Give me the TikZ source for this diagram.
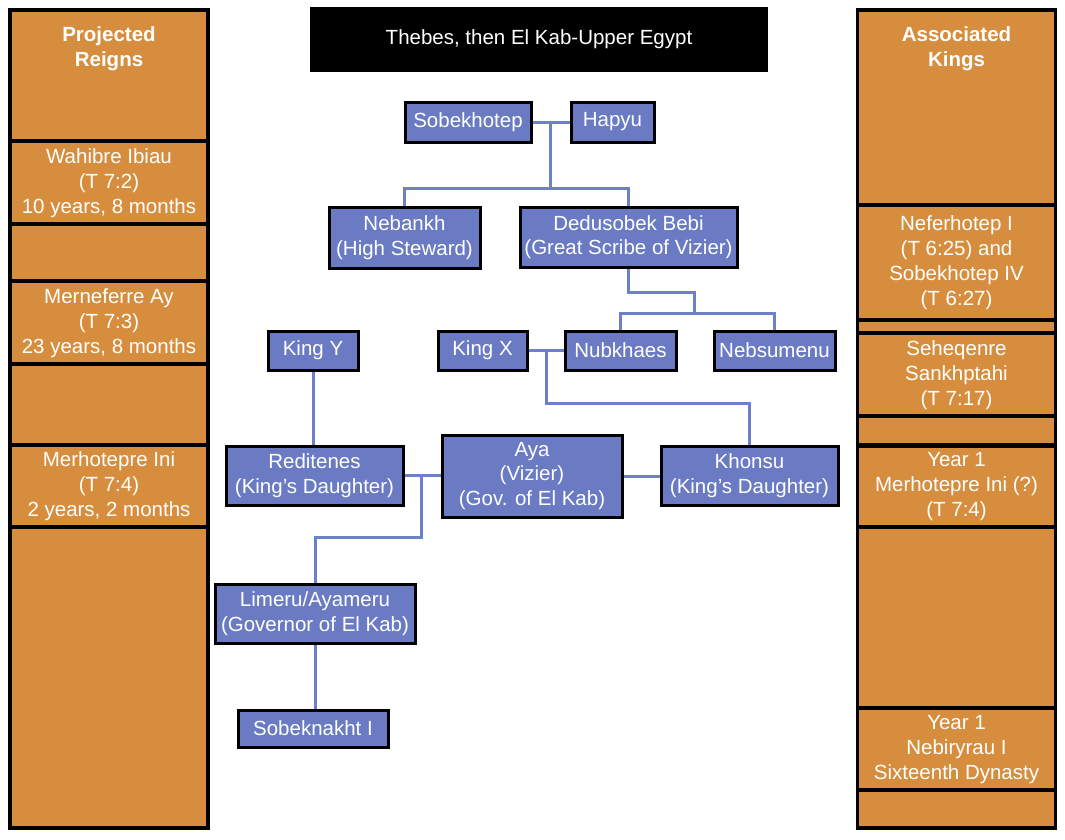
\documentclass[tikz,border=0pt]{standalone}
\usepackage{fontspec}
\setmainfont{Liberation Sans}
\usepackage{tikz}
\usetikzlibrary{positioning,calc}

\definecolor{reignorange}{HTML}{D68E3E}
\definecolor{famblue}{HTML}{6A7BC3}
\definecolor{linkblue}{HTML}{6D80C8}

\tikzset{
  person/.style={draw=black, line width=3pt, fill=famblue, text=white,
    inner sep=0pt, align=center, font=\fontsize{20.5}{24.5}\selectfont},
  reign/.style={draw=black, line width=3.5pt, fill=reignorange, text=white,
    inner sep=0pt, align=center, minimum width=198pt, font=\fontsize{20.5}{25}\selectfont},
  colhead/.style={anchor=north, text=white, align=center,
    font=\bfseries\fontsize{20.5}{25}\selectfont},
  link/.style={draw=linkblue, line width=3pt},
}

\begin{document}
\begin{tikzpicture}[x=1pt, y=-1pt]
      \useasboundingbox (0,0) rectangle (1065,839);

      %% left column
      \node (lhead) [reign, minimum height=131pt] at (109,75.5) {};
      \node (lwah)  [reign, minimum height=83pt]  at (109,183) {Wahibre Ibiau\\(T 7:2)\\10 years, 8 months};
      \node (le1)   [reign, minimum height=57pt]  at (109,252.5) {};
      \node (lmer)  [reign, minimum height=83pt]  at (109,323) {Merneferre Ay\\(T 7:3)\\23 years, 8 months};
      \node (le2)   [reign, minimum height=81pt]  at (109,404.5) {};
      \node (lini)  [reign, minimum height=82pt]  at (109,486.5) {Merhotepre Ini\\(T 7:4)\\2 years, 2 months};
      \node (le3)   [reign, minimum height=301pt] at (109,677.5) {};
      \node (lhtxt) [colhead] at (109,23) {Projected\\Reigns};

      %% right column
      \node (rhead) [reign, minimum height=195pt] at (956.5,107.5) {};
      \node (rnef)  [reign, minimum height=115pt] at (956.5,262.5) {Neferhotep I\\(T 6:25) and\\Sobekhotep IV\\(T 6:27)};
      \node (re1)   [reign, minimum height=13pt]  at (956.5,326.5) {};
      \node (rseh)  [reign, minimum height=83pt]  at (956.5,375) {Seheqenre\\Sankhptahi\\(T 7:17)};
      \node (re2)   [reign, minimum height=29pt]  at (956.5,430.5) {};
      \node (rini)  [reign, minimum height=82pt]  at (956.5,487) {Year 1\\Merhotepre Ini (?)\\(T 7:4)};
      \node (re3)   [reign, minimum height=181pt] at (956.5,617.5) {};
      \node (rneb)  [reign, minimum height=82pt]  at (956.5,749.5) {Year 1\\Nebiryrau I\\Sixteenth Dynasty};
      \node (re4)   [reign, minimum height=38pt]  at (956.5,809) {};
      \node (rhtxt) [colhead] at (956.5,23) {Associated\\Kings};

      %% title
      \node (title) [fill=black, text=white, minimum width=458pt, minimum height=65pt,
        font=\fontsize{20.5}{25}\selectfont] at (539,39.5) {Thebes, then El Kab-Upper Egypt};

      %% family
      \node (sobek)  [person, minimum width=126pt, minimum height=40pt] at (468,122) {Sobekhotep};
      \node (hapyu)  [person, minimum width=83pt,  minimum height=40pt] at (612.5,122) {Hapyu};
      \node (nebankh)[person, minimum width=151pt, minimum height=61pt] at (404.5,237.5) {Nebankh\\(High Steward)};
      \node (dedu)   [person, minimum width=217pt, minimum height=60pt] at (628.5,237) {Dedusobek Bebi\\(Great Scribe of Vizier)};
      \node (kingy)  [person, minimum width=90pt,  minimum height=39pt] at (313,350.5) {King Y};
      \node (kingx)  [person, minimum width=89pt,  minimum height=39pt] at (482.5,350.5) {King X};
      \node (nubk)   [person, minimum width=111pt, minimum height=39pt] at (620.5,350.5) {Nubkhaes};
      \node (nebsu)  [person, minimum width=121pt, minimum height=39pt] at (774.5,350.5) {Nebsumenu};
      \node (redit)  [person, minimum width=177pt, minimum height=59pt] at (314.5,475.5) {Reditenes\\(King’s Daughter)};
      \node (aya)    [person, minimum width=180pt, minimum height=82pt] at (532,476) {Aya\\(Vizier)\\(Gov. of El Kab)};
      \node (khonsu) [person, minimum width=177pt, minimum height=59pt] at (749.5,475.5) {Khonsu\\(King’s Daughter)};
      \node (limeru) [person, minimum width=200pt, minimum height=59pt] at (315,613.5) {Limeru/Ayameru\\(Governor of El Kab)};
      \node (sobn)   [person, minimum width=150pt, minimum height=37pt] at (313,728.5) {Sobeknakht I};

      \coordinate (m1)  at (550,122);
      \coordinate (m1b) at (550,188);
      \coordinate (m2a) at (694,292);
      \coordinate (m2)  at (694,313);
      \coordinate (m3)  at (546,350.5);
      \coordinate (m3b) at (546,403);
      \coordinate (m4)  at (421,476);
      \coordinate (m4b) at (421,537);

      \draw[link] (sobek.east) -- (hapyu.west);
      \draw[link] (m1) -- (m1b);
      \draw[link] (nebankh.north) |- (m1b) -| (dedu.north);
      \draw[link] (dedu.south) |- (m2a) -- (m2);
      \draw[link] (nubk.north) |- (m2) -| (nebsu.north);
      \draw[link] (kingx.east) -- (nubk.west);
      \draw[link] (m3) -- (m3b) -| (khonsu.north);
      \draw[link] (kingy.south) -- (kingy.south |- redit.north);
      \draw[link] (redit.east) -- (redit.east -| aya.west);
      \draw[link] (aya.east) -- (aya.east -| khonsu.west);
      \draw[link] (m4) -- (m4b) -| (limeru.north);
      \draw[link] (limeru.south) -- (limeru.south |- sobn.north);

    \end{tikzpicture}
\end{document}
